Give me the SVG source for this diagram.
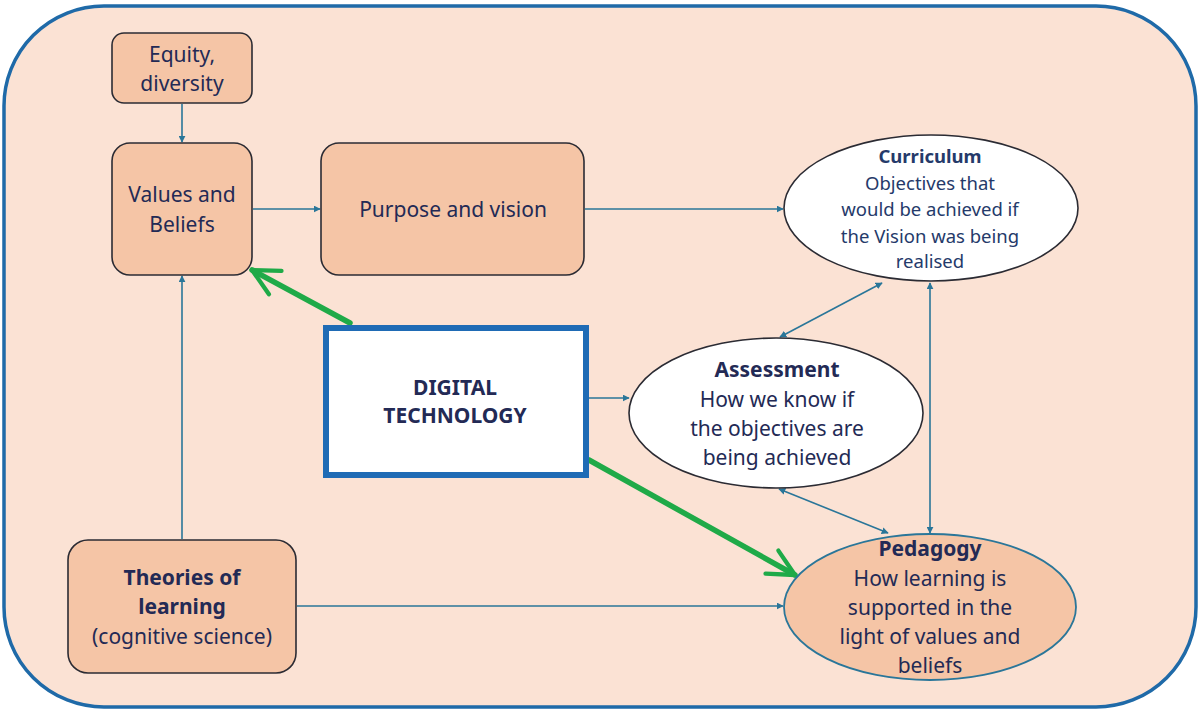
<svg xmlns="http://www.w3.org/2000/svg" width="1200" height="713" viewBox="0 0 1200 713">
<style>
.box{fill:#f5c5a6;stroke:#2b2b33;stroke-width:1.6}
.t{font-family:"Noto Sans","Open Sans",sans-serif;fill:#232a55;text-anchor:middle;font-size:21px}
.s{font-size:18.5px;fill:#253a6a}
.b{font-weight:bold}
.c{stroke:#2a7699;stroke-width:1.6;fill:none}
.g{stroke:#1faa48;stroke-width:5.5;fill:none;stroke-linecap:round}
</style>
<defs>
<marker id="a" viewBox="0 0 10 10" refX="9" refY="5" markerWidth="7" markerHeight="7" markerUnits="userSpaceOnUse" orient="auto-start-reverse"><path d="M0,0 L10,5 L0,10 z" fill="#2a7699"/></marker>
<marker id="ga" viewBox="0 0 10 10" refX="9" refY="5" markerWidth="6" markerHeight="6" orient="auto"><path d="M1,1 L9,5 L1,9" fill="none" stroke="#1faa48" stroke-width="1.3" stroke-linecap="round" stroke-linejoin="round"/></marker>
</defs>
<rect x="4" y="6" width="1192" height="701" rx="100" fill="#fbe2d4" stroke="#1f6aa8" stroke-width="3.5"/>
<g id="connectors">
<line class="c" x1="182" y1="104" x2="182" y2="142" marker-end="url(#a)"/>
<line class="c" x1="253" y1="209" x2="320" y2="209" marker-end="url(#a)"/>
<line class="c" x1="585" y1="209" x2="783" y2="209" marker-end="url(#a)"/>
<line class="c" x1="182" y1="539" x2="182" y2="276" marker-end="url(#a)"/>
<line class="c" x1="297" y1="606" x2="783" y2="606" marker-end="url(#a)"/>
<line class="c" x1="589" y1="398" x2="629" y2="398" marker-end="url(#a)"/>
<line class="c" x1="780" y1="337" x2="882" y2="283" marker-start="url(#a)" marker-end="url(#a)"/>
<line class="c" x1="779" y1="489" x2="888" y2="533" marker-start="url(#a)" marker-end="url(#a)"/>
<line class="c" x1="930" y1="283" x2="930" y2="533" marker-start="url(#a)" marker-end="url(#a)"/>
<line class="g" x1="350" y1="323" x2="252" y2="270" marker-end="url(#ga)"/>
<line class="g" x1="589" y1="460" x2="795" y2="575" marker-end="url(#ga)"/>
</g>
<g id="equity">
<rect class="box" x="112" y="33" width="140" height="70" rx="12"/>
<text class="t" x="182" y="62">Equity,</text>
<text class="t" x="182" y="91">diversity</text>
</g>
<g id="values">
<rect class="box" x="112" y="143" width="140" height="132" rx="18"/>
<text class="t" x="182" y="202">Values and</text>
<text class="t" x="182" y="232">Beliefs</text>
</g>
<g id="purpose">
<rect class="box" x="321" y="143" width="263" height="132" rx="18"/>
<text class="t" x="453" y="217">Purpose and vision</text>
</g>
<g id="theories">
<rect class="box" x="68" y="540" width="228" height="133" rx="20"/>
<text class="t b" x="182" y="585">Theories of</text>
<text class="t b" x="182" y="614">learning</text>
<text class="t" x="182" y="644">(cognitive science)</text>
</g>
<g id="digital">
<rect x="326" y="328" width="260" height="147" fill="#ffffff" stroke="#1f6bb5" stroke-width="6"/>
<text class="t b" x="455" y="395">DIGITAL</text>
<text class="t b" x="455" y="423">TECHNOLOGY</text>
</g>
<g id="curriculum">
<ellipse cx="931" cy="208" rx="147" ry="73" fill="#ffffff" stroke="#2b2b33" stroke-width="1.6"/>
<text class="t s b" x="930" y="163">Curriculum</text>
<text class="t s" x="930" y="190">Objectives that</text>
<text class="t s" x="930" y="216">would be achieved if</text>
<text class="t s" x="930" y="243">the Vision was being</text>
<text class="t s" x="930" y="268">realised</text>
</g>
<g id="assessment">
<ellipse cx="776" cy="413" rx="147" ry="75" fill="#ffffff" stroke="#2b2b33" stroke-width="1.6"/>
<text class="t b" x="777" y="377">Assessment</text>
<text class="t" x="777" y="407">How we know if</text>
<text class="t" x="777" y="436">the objectives are</text>
<text class="t" x="777" y="465">being achieved</text>
</g>
<g id="pedagogy">
<ellipse cx="930" cy="607" rx="146" ry="73" fill="#f5c5a6" stroke="#2a7699" stroke-width="1.8"/>
<text class="t b" x="930" y="556">Pedagogy</text>
<text class="t" x="930" y="586">How learning is</text>
<text class="t" x="930" y="615">supported in the</text>
<text class="t" x="930" y="644">light of values and</text>
<text class="t" x="930" y="673">beliefs</text>
</g>
</svg>
